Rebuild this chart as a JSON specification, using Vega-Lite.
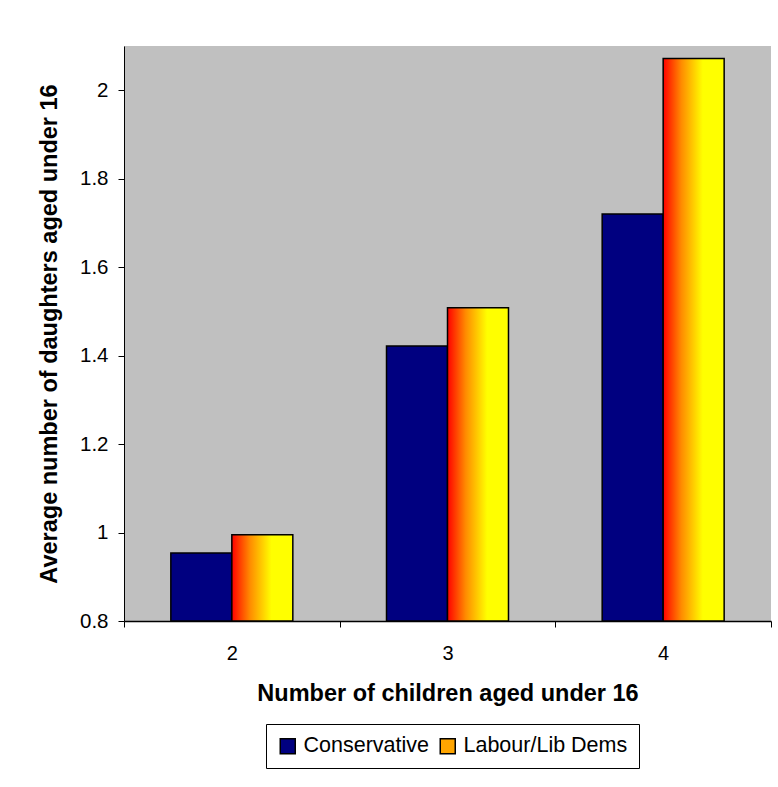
{
  "$schema": "https://vega.github.io/schema/vega-lite/v6.json",
  "width": 647,
  "height": 575,
  "autosize": {"type": "none"},
  "padding": {"left": 124, "top": 46, "right": 7, "bottom": 166},
  "background": "white",
  "config": {
    "view": {"fill": "#c0c0c0", "stroke": null},
    "font": "Liberation Sans"
  },
  "data": {
    "values": [
      {"children": "2", "party": "Conservative", "value": 0.954},
      {"children": "2", "party": "Labour/Lib Dems", "value": 0.995},
      {"children": "3", "party": "Conservative", "value": 1.422},
      {"children": "3", "party": "Labour/Lib Dems", "value": 1.508},
      {"children": "4", "party": "Conservative", "value": 1.72},
      {"children": "4", "party": "Labour/Lib Dems", "value": 2.072}
    ]
  },
  "mark": {"type": "bar", "stroke": "black", "strokeWidth": 1.5},
  "encoding": {
    "x": {
      "field": "children",
      "type": "ordinal",
      "scale": {"paddingInner": 0, "paddingOuter": 0},
      "axis": {
        "title": "Number of children aged under 16",
        "labelAngle": 0,
        "tickBand": "extent",
        "domainColor": "black",
        "domainWidth": 1.5,
        "tickColor": "black",
        "tickSize": 6,
        "labelFontSize": 20,
        "labelPadding": 16,
        "labelColor": "black",
        "titleFontSize": 23.5,
        "titleFontWeight": "bold",
        "titleColor": "black",
        "titlePadding": 18,
        "grid": false
      }
    },
    "xOffset": {
      "field": "party",
      "type": "nominal",
      "sort": ["Conservative", "Labour/Lib Dems"],
      "scale": {"paddingInner": 0, "paddingOuter": 0.768}
    },
    "y": {
      "field": "value",
      "type": "quantitative",
      "scale": {"domain": [0.8, 2.1], "zero": false, "nice": false},
      "axis": {
        "values": [0.8, 1, 1.2, 1.4, 1.6, 1.8, 2],
        "format": ".1~f",
        "title": "Average number of daughters aged under 16",
        "domainColor": "black",
        "tickColor": "black",
        "tickSize": 6,
        "labelFontSize": 20.5,
        "labelPadding": 10,
        "labelColor": "black",
        "titleFontSize": 23.5,
        "titleFontWeight": "bold",
        "titleColor": "black",
        "titlePadding": 18,
        "grid": false
      }
    },
    "y2": {"datum": 0.8},
    "fill": {
      "condition": {
        "test": "datum.party === 'Labour/Lib Dems'",
        "value": {
          "gradient": "linear",
          "x1": 0, "y1": 0, "x2": 1, "y2": 0,
          "stops": [
            {"offset": 0, "color": "#ff0000"},
            {"offset": 0.3, "color": "#ff8c00"},
            {"offset": 0.65, "color": "#ffff00"},
            {"offset": 1, "color": "#ffff00"}
          ]
        }
      },
      "field": "party",
      "type": "nominal",
      "scale": {
        "domain": ["Conservative", "Labour/Lib Dems"],
        "range": ["#000080", "#ffa500"]
      },
      "legend": {
        "orient": "none",
        "legendX": 142,
        "legendY": 678,
        "direction": "horizontal",
        "title": null,
        "strokeColor": "black",
        "fillColor": "white",
        "padding": 11,
        "symbolType": "square",
        "symbolSize": 225,
        "symbolOpacity": 1,
        "labelFontSize": 21.5,
        "labelColor": "black",
        "labelLimit": 400,
        "labelOffset": 5,
        "columnPadding": 8,
        "encode": {
          "symbols": {
            "stroke": {"value": "black"},
            "strokeWidth": {"value": 1.5},
            "opacity": {"value": 1}
          }
        }
      }
    }
  }
}
